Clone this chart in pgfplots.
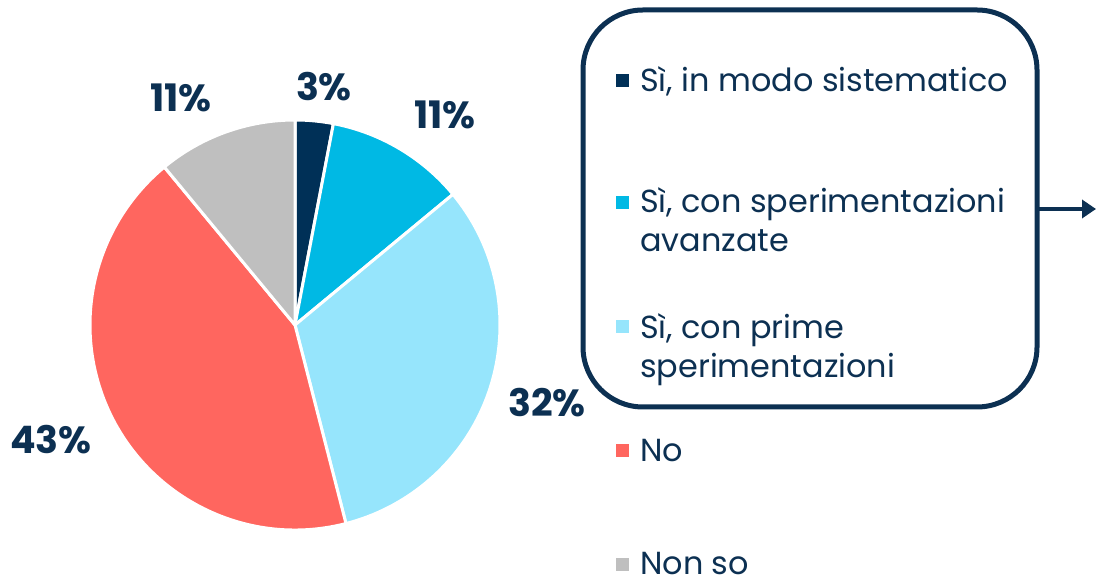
\documentclass[border=0pt]{standalone}
\usepackage{fontspec}
\setmainfont{Poppins}
\usepackage{pgfplots}
\usepackage{pgfplotstable}
\pgfplotsset{compat=1.18}
\usetikzlibrary{arrows.meta}

\definecolor{pc0}{RGB}{0,48,87}
\definecolor{pc1}{RGB}{0,185,228}
\definecolor{pc2}{RGB}{150,229,252}
\definecolor{pc3}{RGB}{255,102,95}
\definecolor{pc4}{RGB}{191,191,191}
\definecolor{textc}{RGB}{12,48,82}

\newcommand\labfont{\fontsize{38}{42}\selectfont\bfseries}
\newcommand\legfont{\fontsize{32}{36}\selectfont}

% value = share in percent; lx, ly = label position (px, y measured from bottom)
\pgfplotstableread{
value lx ly
3 324 499
11 445 471
32 547 183
43 51 146
11 181 488
}\piedata

\begin{document}
\begin{tikzpicture}
\begin{axis}[
  at={(0,0)}, anchor=south west,
  width=1097bp, height=586bp, scale only axis,
  xmin=0, xmax=1097, ymin=0, ymax=586,
  enlargelimits=false, hide axis, clip=false,
]
\def\cum{0}
\pgfplotsforeachungrouped \i in {0,...,4}{%
  \pgfplotstablegetelem{\i}{value}\of\piedata \let\v\pgfplotsretval
  \pgfplotstablegetelem{\i}{lx}\of\piedata \let\lx\pgfplotsretval
  \pgfplotstablegetelem{\i}{ly}\of\piedata \let\ly\pgfplotsretval
  \pgfmathsetmacro{\a}{90-3.6*\cum}%
  \pgfmathsetmacro{\b}{90-3.6*(\cum+\v)}%
  \pgfmathsetmacro{\sx}{295+205*cos(\a)}%
  \pgfmathsetmacro{\sy}{261+205*sin(\a)}%
  \edef\temp{\noexpand\fill[pc\i, draw=white, line width=3bp, line join=round]
     (axis cs:295,261) -- (axis cs:\sx,\sy) arc[start angle=\a, end angle=\b, radius=205bp] -- cycle;
   \noexpand\node[font=\noexpand\labfont, text=textc, inner sep=0pt] at (axis cs:\lx,\ly) {\v\noexpand\%};}%
  \temp
  \pgfmathsetmacro{\cum}{\cum+\v}%
}

% legend squares
\fill[pc0] (axis cs:616,499) rectangle (axis cs:629,512);
\fill[pc1] (axis cs:616,377) rectangle (axis cs:629,390);
\fill[pc2] (axis cs:616,253) rectangle (axis cs:629,266);
\fill[pc3] (axis cs:616,129) rectangle (axis cs:629,142);
\fill[pc4] (axis cs:616,15) rectangle (axis cs:629,28);

% legend text
\begin{scope}[every node/.style={anchor=base west, inner sep=0pt, text=textc, font=\legfont}]
\node at (axis cs:640,494) {Sì, in modo sistematico};
\node at (axis cs:640,373) {Sì, con sperimentazioni};
\node at (axis cs:640,334) {avanzate};
\node at (axis cs:640,247) {Sì, con prime};
\node at (axis cs:640,208) {sperimentazioni};
\node at (axis cs:640,124) {No};
\node at (axis cs:640,12) {Non so};
\end{scope}

% rounded box and arrow
\draw[textc, line width=5bp, rounded corners=60bp] (axis cs:583,179) rectangle (axis cs:1037,576);
\draw[textc, line width=4.5bp, -{Triangle[length=14bp, width=18bp]}] (axis cs:1037,377) -- (axis cs:1096,377);
\end{axis}
\pgfresetboundingbox
\path (0,0) rectangle (1097bp,586bp);
\end{tikzpicture}
\end{document}
